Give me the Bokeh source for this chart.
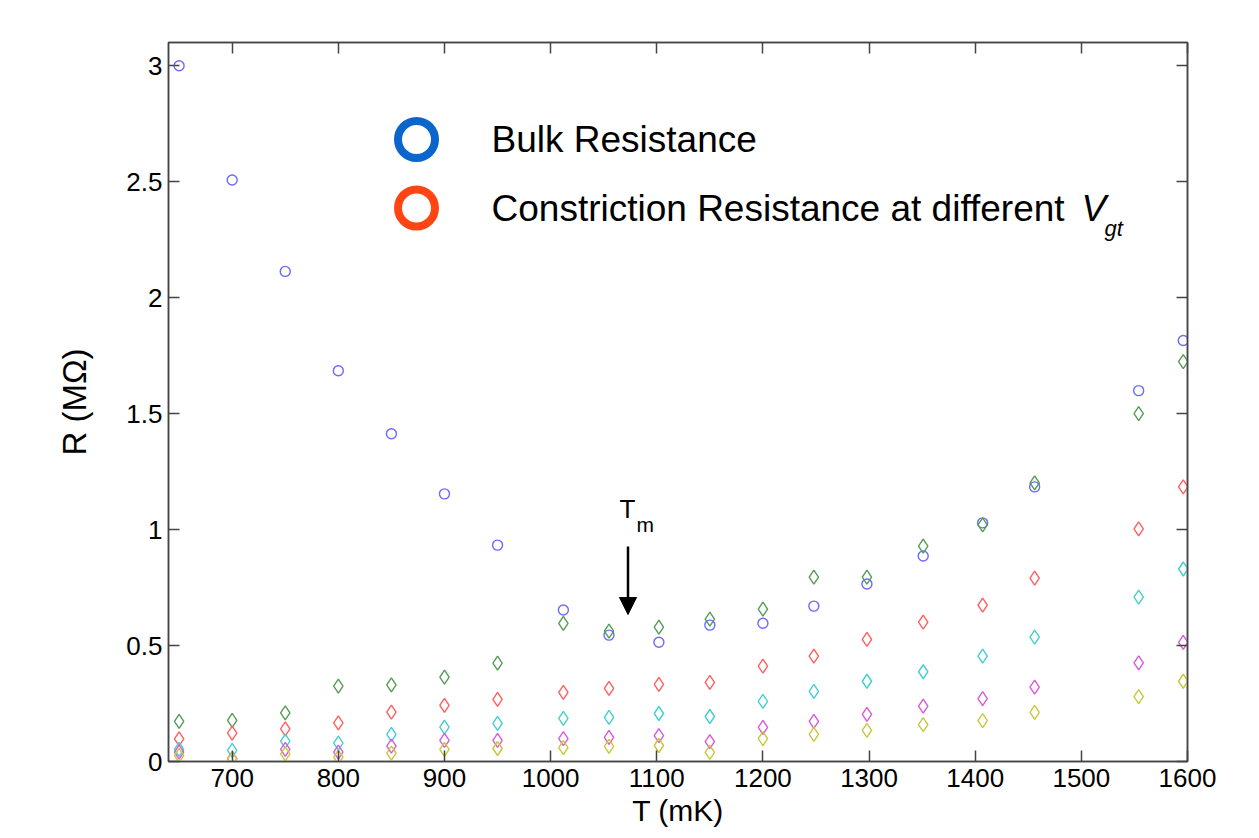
from bokeh.plotting import figure
from bokeh.models import (Range1d, LinearAxis, FixedTicker, NumeralTickFormatter,
                          Label, Arrow, NormalHead)
from bokeh.embed import file_html
from bokeh.resources import INLINE

# ---------------- data ----------------
T_mK = [650, 700, 750, 800, 850, 900, 950, 1012, 1055, 1102, 1150,
        1200, 1248, 1298, 1351, 1407, 1456, 1554, 1596]

bulk_R = [3.00, 2.507, 2.113, 1.685, 1.413, 1.154, 0.933, 0.653, 0.545, 0.514, 0.588,
          0.596, 0.670, 0.765, 0.886, 1.029, 1.184, 1.599, 1.815]

constr_green = [0.173, 0.177, 0.210, 0.325, 0.330, 0.364, 0.424, 0.596, 0.562, 0.579, 0.614,
                0.657, 0.795, 0.795, 0.929, 1.020, 1.201, 1.500, 1.724]
constr_red = [0.098, 0.122, 0.141, 0.167, 0.213, 0.242, 0.268, 0.298, 0.315, 0.333, 0.341,
              0.411, 0.454, 0.527, 0.601, 0.674, 0.791, 1.003, 1.184]
constr_cyan = [0.052, 0.048, 0.088, 0.079, 0.117, 0.148, 0.164, 0.186, 0.190, 0.207, 0.194,
               0.259, 0.302, 0.346, 0.387, 0.454, 0.536, 0.709, 0.830]
constr_magenta = [0.040, 0.012, 0.052, 0.040, 0.066, 0.091, 0.091, 0.099, 0.104, 0.112, 0.086,
                  0.147, 0.173, 0.203, 0.239, 0.271, 0.321, 0.425, 0.514]
constr_yellow = [0.026, 0.010, 0.033, 0.019, 0.036, 0.052, 0.056, 0.060, 0.065, 0.069, 0.039,
                 0.099, 0.117, 0.134, 0.159, 0.176, 0.212, 0.280, 0.346]

x_ticks = [700, 800, 900, 1000, 1100, 1200, 1300, 1400, 1500, 1600]
y_ticks = [0, 0.5, 1, 1.5, 2, 2.5, 3]

x_title = "T (mK)"
y_title = "R (M\u03a9)"

constr_series = [
    (constr_green, "#559c55"),
    (constr_red, "#ff5f5f"),
    (constr_cyan, "#45cfcf"),
    (constr_magenta, "#d95ad9"),
    (constr_yellow, "#c8c83c"),
]

# ---------------- layout ----------------
X0, X1, Y0, Y1 = 640, 1600, 0, 3.1
FL, FR, FT, FB = 168, 1187, 42, 761   # frame in pixels
W, H = 1259, 838
FONT = "Liberation Sans"
BASE_SHIFT = 0.38   # Bokeh's alphabetic baseline sits ~0.38 em lower than asked


def dx(px):
    return X0 + (px - FL) * (X1 - X0) / (FR - FL)


def dy(py):
    return Y0 + (FB - py) * (Y1 - Y0) / (FB - FT)


p = figure(width=W, height=H, x_range=Range1d(X0, X1), y_range=Range1d(Y0, Y1),
           output_backend="svg", toolbar_location=None,
           min_border_left=FL, min_border_right=W - FR,
           min_border_top=FT, min_border_bottom=H - FB)
p.xgrid.visible = False
p.ygrid.visible = False
p.outline_line_color = "#444444"
p.outline_line_width = 1.5
p.background_fill_color = "white"
p.border_fill_color = "white"


def style_axis(ax, ticks, show_labels):
    ax.ticker = FixedTicker(ticks=ticks)
    ax.axis_line_color = "#444444"
    ax.axis_line_width = 1.5
    ax.major_tick_line_color = "#444444"
    ax.major_tick_line_width = 1.5
    ax.major_tick_in = 11
    ax.major_tick_out = 0
    ax.minor_tick_line_color = None
    ax.major_label_text_font = FONT
    ax.axis_label_text_font = FONT
    ax.axis_label_text_font_style = "normal"
    ax.axis_label_text_color = "black"
    if show_labels:
        ax.major_label_text_font_size = "26px"
        ax.major_label_text_color = "black"
    else:
        ax.major_label_text_font_size = "1px"
        ax.major_label_text_color = None


xa = p.xaxis[0]
style_axis(xa, x_ticks, True)
xa.major_label_standoff = 7
xa.axis_label = x_title
xa.axis_label_text_font_size = "30px"
xa.axis_label_standoff = 4

ya = p.yaxis[0]
style_axis(ya, y_ticks, True)
ya.major_label_standoff = 6
ya.formatter = NumeralTickFormatter(format="0.[0]")
ya.axis_label = y_title
ya.axis_label_text_font_size = "33px"
ya.axis_label_standoff = 30

top_ax = LinearAxis()
style_axis(top_ax, x_ticks, False)
p.add_layout(top_ax, "above")
right_ax = LinearAxis()
style_axis(right_ax, y_ticks, False)
p.add_layout(right_ax, "right")

# ---------------- data marks ----------------
p.scatter(T_mK, bulk_R, marker="circle", size=10, fill_color=None,
          line_color="#6a6aff", line_width=1.4)
for vals, col in constr_series:
    p.scatter(T_mK, vals, marker="diamond", size=14, fill_color=None,
              line_color=col, line_width=1.4)

# ---------------- legend (drawn as in the reference) ----------------
p.scatter([dx(416)], [dy(139)], marker="circle", size=37, fill_color=None,
          line_color="#0a66cc", line_width=8)
p.scatter([dx(416)], [dy(207.5)], marker="circle", size=37, fill_color=None,
          line_color="#ff4513", line_width=8)


def add_label(px, py, text, size, style="normal"):
    # px, py: canvas pixels of the text start and its baseline
    fs = float(size.rstrip("px"))
    p.add_layout(Label(x=dx(px), y=dy(py - BASE_SHIFT * fs), text=text, text_font=FONT,
                       text_font_size=size, text_font_style=style,
                       text_color="black", text_align="left",
                       text_baseline="alphabetic"))


add_label(491, 153, "Bulk Resistance", "37px")
add_label(491, 222, "Constriction Resistance at different ", "37px")
add_label(1081, 222, "V", "37px", "italic")
add_label(1104, 236, "gt", "22px", "italic")

# ---------------- T_m annotation ----------------
add_label(619, 518, "T", "26px")
add_label(636, 532, "m", "21px")
p.add_layout(Arrow(end=NormalHead(size=17, fill_color="black", line_color="black"),
                   x_start=dx(627.5), y_start=dy(546), x_end=dx(627.5), y_end=dy(614),
                   line_width=2.5, line_color="black"))

open("out.html", "w").write(file_html(p, INLINE))
